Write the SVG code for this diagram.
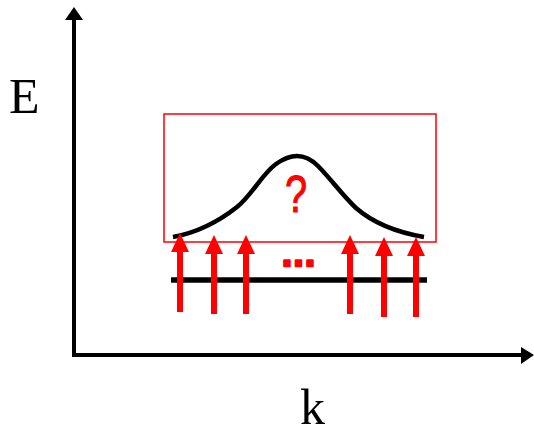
<svg xmlns="http://www.w3.org/2000/svg" width="534" height="432" viewBox="0 0 534 432">
<style>
.ax{stroke:#000;stroke-width:4;fill:none}
.shaft{stroke:#f00;stroke-width:6;fill:none}
.head{fill:#f00}
.lbl{font-family:"Liberation Serif","Times New Roman",serif;font-size:50px;fill:#000}
</style>
<rect width="534" height="432" fill="#fff"/>
<g id="axes">
<line class="ax" x1="74" y1="357" x2="74" y2="18"/>
<polygon points="65,20 74,7 83,20" fill="#000"/>
<line class="ax" x1="72" y1="355" x2="523" y2="355"/>
<polygon points="521,347 534,355 521,364" fill="#000"/>
</g>
<g id="label-E"><text class="lbl" x="9" y="113">E</text></g>
<g id="label-k"><text class="lbl" x="300" y="424">k</text></g>
<g id="box"><rect x="164" y="114" width="272" height="128" fill="none" stroke="#f00" stroke-width="1.5"/></g>
<g id="curve"><path d="M173,237 C195,233 218,222 237,207 C252,195 262,174 276,164 C283,159 290,156 297,156 C304,156 311,159 318,166 C330,178 343,196 356,208 C372,222 395,232 424,237" fill="none" stroke="#000" stroke-width="4.5"/></g>
<g id="ground"><line x1="171" y1="280" x2="427" y2="280" stroke="#000" stroke-width="5.5"/></g>
<g id="question"><text x="296" y="212" text-anchor="middle" font-family="'Liberation Sans',Arial,sans-serif" font-size="51" fill="#f00" stroke="#f00" stroke-width="1" transform="translate(296 0) scale(0.78 1) translate(-296 0)">?</text></g>
<g id="dots"><text x="282" y="266" font-family="'Liberation Sans',Arial,sans-serif" font-weight="bold" font-size="36" letter-spacing="1.5" fill="#f00" stroke="#f00" stroke-width="2.5" stroke-linejoin="round">...</text></g>
<g id="arrows">
<line class="shaft" x1="180" y1="312" x2="180" y2="250"/><polygon class="head" points="171,252 180,233 189,252"/>
<line class="shaft" x1="214" y1="314" x2="214" y2="252"/><polygon class="head" points="205,254 214,235 223,254"/>
<line class="shaft" x1="246" y1="314" x2="246" y2="252"/><polygon class="head" points="237,254 246,235 255,254"/>
<line class="shaft" x1="350" y1="314" x2="350" y2="252"/><polygon class="head" points="341,254 350,235 359,254"/>
<line class="shaft" x1="384" y1="317" x2="384" y2="254"/><polygon class="head" points="375,256 384,237 393,256"/>
<line class="shaft" x1="416" y1="317" x2="416" y2="254"/><polygon class="head" points="407,256 416,237 425,256"/>
</g>
</svg>
